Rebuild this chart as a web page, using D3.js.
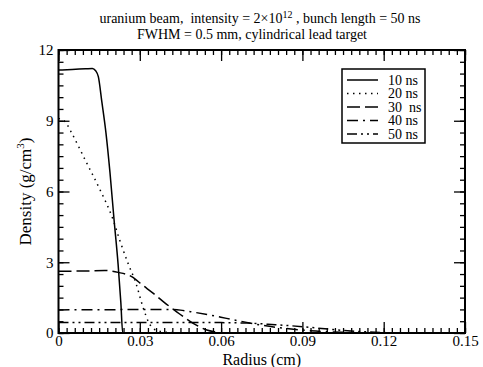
<!DOCTYPE html>
<html>
<head>
<meta charset="utf-8">
<script src="https://cdn.jsdelivr.net/npm/d3@7"></script>
<style>
  body { margin: 0; background: #fff; }
  svg { font-family: "Liberation Serif", "Times New Roman", serif; }
  text { white-space: pre; }
</style>
</head>
<body>
<svg id="chart" width="483" height="367"></svg>
<script>
// radius (cm) / density (g/cm^3)
const r10 = [0, 0.005, 0.010, 0.0125, 0.0137, 0.0147, 0.016, 0.0175, 0.019, 0.0205, 0.022, 0.023, 0.0237, 0.15];
const d10 = [11.15, 11.17, 11.2, 11.22, 11.12, 10.87, 9.8, 8.5, 6.8, 4.8, 2.9, 1.3, 0, 0];
const r20 = [0, 0.0025, 0.005, 0.010, 0.015, 0.020, 0.0227, 0.0255, 0.0286, 0.0313, 0.0335, 0.036, 0.04, 0.05, 0.15];
const d20 = [9.1, 8.95, 8.45, 7.3, 6.15, 4.85, 3.9, 3.0, 2.1, 1.05, 0.4, 0.12, 0.03, 0, 0];
const r30 = [0, 0.01, 0.017, 0.022, 0.027, 0.031, 0.035, 0.039, 0.0436, 0.0497, 0.0547, 0.0578, 0.061, 0.15];
const d30 = [2.62, 2.63, 2.65, 2.57, 2.39, 2.03, 1.68, 1.3, 0.9, 0.41, 0.13, 0.05, 0, 0];
const r40 = [0, 0.02, 0.04, 0.045, 0.05, 0.0559, 0.062, 0.0694, 0.075, 0.085, 0.095, 0.105, 0.115, 0.15];
const d40 = [0.98, 0.99, 1.0, 0.97, 0.88, 0.76, 0.62, 0.45, 0.33, 0.18, 0.08, 0.03, 0, 0];
const r50 = [0, 0.02, 0.04, 0.06, 0.07, 0.08, 0.09, 0.10, 0.11, 0.12, 0.125, 0.15];
const d50 = [0.44, 0.45, 0.45, 0.44, 0.42, 0.35, 0.27, 0.16, 0.07, 0.02, 0, 0];

const seriesNames = ["10 ns", "20 ns", "30  ns", "40 ns", "50 ns"];
const xTicks = [0, 0.03, 0.06, 0.09, 0.12, 0.15];
const yTicks = [0, 3, 6, 9, 12];

const series = [
  { name: seriesNames[0], r: r10, d: d10, dash: null },
  { name: seriesNames[1], r: r20, d: d20, dash: "1.5,4.5" },
  { name: seriesNames[2], r: r30, d: d30, dash: "13,5" },
  { name: seriesNames[3], r: r40, d: d40, dash: "11,5,2,5" },
  { name: seriesNames[4], r: r50, d: d50, dash: "10,4,2,4,2,4" }
];

const svg = d3.select("#chart");
const marge = { top: 50, bottom: 34, left: 58.5, right: 18 };
const W = 483 - marge.left - marge.right;
const H = 367 - marge.top - marge.bottom;

const x = d3.scaleLinear().domain([0, 0.15]).range([0, W]);
const y = d3.scaleLinear().domain([0, 12]).range([H, 0]);

const g = svg.append("g").attr("transform", `translate(${marge.left},${marge.top})`);

// title
svg.append("text").attr("x", 260).attr("y", 23).attr("text-anchor", "middle")
  .attr("font-size", 14)
  .html('uranium beam,  intensity = 2×10<tspan dy="-5" font-size="10">12</tspan><tspan dy="5"> , bunch length = 50 ns</tspan>');
svg.append("text").attr("x", 252).attr("y", 39).attr("text-anchor", "middle")
  .attr("font-size", 14).text("FWHM = 0.5 mm, cylindrical lead target");

// curves
const line = d3.line().x(p => x(p[0])).y(p => y(p[1])).curve(d3.curveMonotoneX);
series.forEach(s => {
  g.append("path")
    .datum(s.r.map((v, i) => [v, s.d[i]]))
    .attr("d", line)
    .attr("fill", "none")
    .attr("stroke", "#000")
    .attr("stroke-width", 1.5)
    .attr("stroke-dasharray", s.dash);
});

// axes, ticks inward
const xMinor = d3.range(0, 0.1501, 0.003);
const yMinor = d3.range(0, 12.01, 0.5);
function styleAxis(sel) {
  sel.select(".domain").remove();
  sel.selectAll(".tick line").attr("stroke", "#000").attr("stroke-width", 1.3);
  sel.selectAll("text").attr("fill", "#000").attr("font-family", "Liberation Serif, serif");
}
g.append("g").attr("transform", `translate(0,${H})`)
  .call(d3.axisBottom(x).tickValues(xMinor).tickSize(-5).tickFormat("")).call(styleAxis);
g.append("g").attr("transform", `translate(0,${H})`)
  .call(d3.axisBottom(x).tickValues(xTicks).tickSizeInner(-11).tickSizeOuter(0).tickPadding(5)
    .tickFormat(d => d === 0 ? "0" : d3.format(".2f")(d)))
  .call(styleAxis)
  .selectAll("text").attr("font-size", 15).attr("dy", null).attr("y", 13);
g.append("g")
  .call(d3.axisTop(x).tickValues(xMinor).tickSize(-5).tickFormat("")).call(styleAxis);
g.append("g")
  .call(d3.axisTop(x).tickValues(xTicks).tickSize(-11).tickFormat("")).call(styleAxis);

g.append("g")
  .call(d3.axisLeft(y).tickValues(yMinor).tickSize(-5).tickFormat("")).call(styleAxis);
g.append("g")
  .call(d3.axisLeft(y).tickValues(yTicks).tickSizeInner(-11).tickSizeOuter(0).tickPadding(5))
  .call(styleAxis)
  .selectAll("text").attr("font-size", 15).attr("x", -5);
g.append("g").attr("transform", `translate(${W},0)`)
  .call(d3.axisRight(y).tickValues(yMinor).tickSize(-5).tickFormat("")).call(styleAxis);
g.append("g").attr("transform", `translate(${W},0)`)
  .call(d3.axisRight(y).tickValues(yTicks).tickSize(-11).tickFormat("")).call(styleAxis);

g.append("rect").attr("width", W).attr("height", H)
  .attr("fill", "none").attr("stroke", "#000").attr("stroke-width", 2);

// axis titles
svg.append("text").attr("x", marge.left + W / 2).attr("y", 364.5).attr("text-anchor", "middle")
  .attr("font-size", 16).text("Radius (cm)");
svg.append("text").attr("transform", `translate(31,${marge.top + H / 2}) rotate(-90)`)
  .attr("text-anchor", "middle").attr("font-size", 17)
  .html('Density (g/cm<tspan dy="-7" font-size="11">3</tspan><tspan dy="7">)</tspan>');

// legend
const lg = svg.append("g").attr("transform", "translate(342,69)");
lg.append("rect").attr("width", 83).attr("height", 74)
  .attr("fill", "#fff").attr("stroke", "#000").attr("stroke-width", 1.5);
series.forEach((s, i) => {
  const yy = 11 + i * 13.5;
  lg.append("line").attr("x1", 5).attr("x2", 36).attr("y1", yy).attr("y2", yy)
    .attr("stroke", "#000").attr("stroke-width", 1.5).attr("stroke-dasharray", s.dash);
  lg.append("text").attr("x", 46).attr("y", yy + 4.5).attr("font-size", 14).text(s.name);
});
</script>
</body>
</html>
